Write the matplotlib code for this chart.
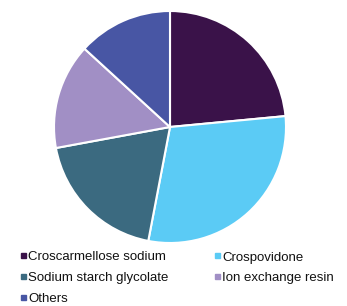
import matplotlib.pyplot as plt
from matplotlib.patches import Rectangle

plt.rcParams['font.family'] = ['Liberation Sans', 'DejaVu Sans']

# share of each disintegrant type
labels = ["Croscarmellose sodium", "Crospovidone", "Sodium starch glycolate",
          "Ion exchange resin", "Others"]
shares = [23.5, 29.5, 19.1, 14.7, 13.2]
colors = ["#3A1249", "#5BCBF5", "#3B6A80", "#A18FC5", "#4856A4"]

W, H = 347, 306
fig = plt.figure(figsize=(W / 100, H / 100), dpi=100)

# pie centre (170,127) px from top-left, radius 116 px
cx, cy, r = 170, 127, 116
ax = fig.add_axes([(cx - r) / W, (H - cy - r) / H, 2 * r / W, 2 * r / H])
ax.pie(shares, colors=colors, startangle=90, counterclock=False,
       wedgeprops=dict(edgecolor="white", linewidth=1.5))
ax.set_xlim(-1, 1)
ax.set_ylim(-1, 1)
ax.axis("off")

# legend, filled row by row in two columns
col_x = [21, 215]
row_y = [255.5, 276.5, 297.5]
for i, (lab, col) in enumerate(zip(labels, colors)):
    x = col_x[i % 2]
    y = row_y[i // 2]
    fig.patches.append(Rectangle((x / W, (H - y - 2.5) / H), 5 / W, 5 / H,
                                 transform=fig.transFigure, color=col))
    fig.text((x + 7.5) / W, (H - y - 5) / H, lab, fontsize=9.5, va="baseline",
             ha="left", color="#111111")

fig.savefig("out.png", dpi=100)
